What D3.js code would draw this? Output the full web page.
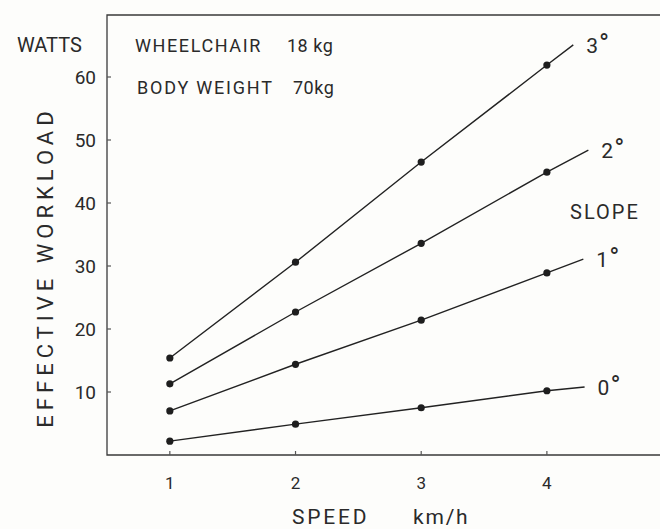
<!DOCTYPE html>
<html lang="en">
<head>
  <meta charset="UTF-8">
  <title>Effective workload</title>
  <script src="https://cdn.jsdelivr.net/npm/d3@7"></script>
  <style>
    body { margin: 0; background-color: #fdfdfb; }
    svg text { font-family: Roboto, "DejaVu Sans", sans-serif; fill: #2a2a2a; }
    .axis-line { stroke: #3a3a3a; stroke-width: 1.3px; fill: none; }
    .tick-mark { stroke: #555; stroke-width: 1.2px; }
    .curve { fill: none; stroke: #222; stroke-width: 1.4px; }
    .dot { fill: #1e1e1e; }
  </style>
</head>
<body>
  <svg width="660" height="529"></svg>
  <script>
    // data
    var speeds = [1, 2, 3, 4];
    var slopeNames = ["0", "1", "2", "3"];
    var slope0 = [2.2, 4.9, 7.5, 10.2];
    var slope1 = [7.0, 14.4, 21.4, 28.9];
    var slope2 = [11.3, 22.7, 33.6, 44.9];
    var slope3 = [15.4, 30.6, 46.5, 61.9];
    // where each drawn line stops, past the last point
    var endSpeeds = [4.30, 4.29, 4.33, 4.21];
    var endWatts = [10.8, 31.1, 48.4, 65.1];
    var yTicks = [10, 20, 30, 40, 50, 60];
    var xTicks = [1, 2, 3, 4];

    var series = [slope0, slope1, slope2, slope3].map(function(vals, i) {
      return {
        name: slopeNames[i],
        points: speeds.map(function(s, j) { return {x: s, y: vals[j]}; }),
        end: {x: endSpeeds[i], y: endWatts[i]}
      };
    });

    var svg = d3.select("svg");
    svg.append("rect").attr("width", 660).attr("height", 529).attr("fill", "#fdfdfb");

    var x = d3.scaleLinear().domain([0.5, 4.9]).range([107, 660]);
    var y = d3.scaleLinear().domain([0, 60]).range([455, 77]);
    var yTop = 15;

    // frame: left, top, bottom
    svg.append("path").attr("class", "axis-line")
        .attr("d", "M" + x(4.9) + "," + yTop + "H" + x(0.5) + "V" + y(0) + "H" + x(4.9));

    // y ticks
    svg.selectAll(".ytick").data(yTicks).enter().append("line")
        .attr("class", "tick-mark")
        .attr("x1", x(0.5)).attr("x2", x(0.5) + 4)
        .attr("y1", function(d) { return y(d); })
        .attr("y2", function(d) { return y(d); });
    svg.selectAll(".ylab").data(yTicks).enter().append("text")
        .attr("x", 96)
        .attr("y", function(d) { return y(d); })
        .attr("dy", "0.36em")
        .attr("text-anchor", "end")
        .style("font-size", "19px")
        .text(function(d) { return d; });

    // x ticks
    svg.selectAll(".xtick").data(xTicks).enter().append("line")
        .attr("class", "tick-mark")
        .attr("x1", function(d) { return x(d); })
        .attr("x2", function(d) { return x(d); })
        .attr("y1", y(0)).attr("y2", y(0) - 4);
    svg.selectAll(".xlab").data(xTicks).enter().append("text")
        .attr("x", function(d) { return x(d); })
        .attr("y", 489)
        .attr("text-anchor", "middle")
        .style("font-size", "17px")
        .text(function(d) { return d; });

    var line = d3.line()
        .x(function(d) { return x(d.x); })
        .y(function(d) { return y(d.y); });

    var g = svg.append("g");
    series.forEach(function(s) {
      g.append("path").attr("class", "curve")
          .attr("d", line(s.points.concat([s.end])));
      g.selectAll(null).data(s.points).enter().append("circle")
          .attr("class", "dot")
          .attr("cx", function(d) { return x(d.x); })
          .attr("cy", function(d) { return y(d.y); })
          .attr("r", 3.6);
      var t = g.append("text")
          .attr("x", x(s.end.x) + 13)
          .attr("y", y(s.end.y))
          .attr("dy", "0.4em")
          .style("font-size", "21px")
          .text(s.name);
      t.append("tspan")
          .attr("dx", 1)
          .style("font-size", "27px")
          .text("°");
    });

    // labels
    function label(txt, px, py, size, spacing) {
      return svg.append("text").attr("x", px).attr("y", py)
          .style("font-size", size + "px")
          .style("letter-spacing", (spacing || 0) + "px")
          .text(txt);
    }
    label("WATTS", 17, 52, 20, 0);
    label("WHEELCHAIR", 135, 52, 18, 1.6);
    label("18 kg", 287, 52, 18, 0.5);
    label("BODY  WEIGHT", 137, 94, 18, 1.8);
    label("70kg", 293, 94, 18, 0.5);
    label("SLOPE", 570, 219, 20, 2);
    label("SPEED", 292, 524, 21, 2.8);
    label("km/h", 413, 524, 21, 1.8);

    svg.append("text")
        .attr("transform", "translate(53,267) rotate(-90)")
        .attr("text-anchor", "middle")
        .style("font-size", "22px")
        .style("letter-spacing", "5px")
        .text("EFFECTIVE  WORKLOAD");
  </script>
</body>
</html>
